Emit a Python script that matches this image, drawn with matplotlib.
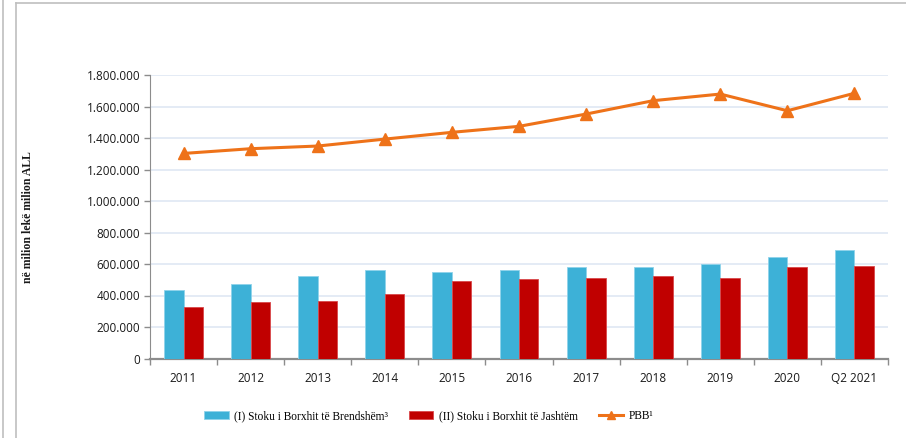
import matplotlib
matplotlib.use("Agg")
import matplotlib.pyplot as plt
import numpy as np
from matplotlib.lines import Line2D
from matplotlib.ticker import FuncFormatter, FixedLocator

# vlerat e lexuara nga grafiku (milion ALL)
vitet = ["2011", "2012", "2013", "2014", "2015", "2016", "2017", "2018", "2019", "2020", "Q2 2021"]
borxhi_brendshem = [438000, 470000, 521000, 565000, 550000, 561000, 578000, 580000, 599000, 644000, 686000]
borxhi_jashtem = [330000, 356000, 362000, 410000, 489000, 502000, 508000, 525000, 512000, 578000, 587000]
pbb = [1302000, 1332000, 1349000, 1393000, 1436000, 1474000, 1552000, 1637000, 1679000, 1573000, 1684000]
y_ticks = [0, 200000, 400000, 600000, 800000, 1000000, 1200000, 1400000, 1600000, 1800000]

colors = {
    'blue': '#3DB1D7',
    'red': '#C00000',
    'orange': '#EE7219',
    'grid': '#DCE6F2',
    'spine': '#8C8C8C',
    'text': '#1A1A1A',
}

fig = plt.figure(figsize=(9.06, 4.38), dpi=100)
ax = fig.add_axes([150 / 906, 1 - 358.5 / 438, 738 / 906, 283.5 / 438])

x = np.arange(len(vitet))
w = 0.29
b1 = ax.bar(x - w / 2, borxhi_brendshem, width=w, color=colors['blue'],
            edgecolor='#8FD3EA', linewidth=0.6, zorder=3,
            label='(I) Stoku i Borxhit të Brendshëm³')
b2 = ax.bar(x + w / 2, borxhi_jashtem, width=w, color=colors['red'],
            edgecolor='#D9474A', linewidth=0.6, zorder=3,
            label='(II) Stoku i Borxhit të Jashtëm')
ln, = ax.plot(x, pbb, color=colors['orange'], linewidth=2.2, marker='^',
              markersize=8, zorder=4, label='PBB¹')

ax.set_xlim(-0.5, len(vitet) - 0.5)
ax.set_ylim(0, 1800000)
ax.yaxis.set_major_locator(FixedLocator(y_ticks))
ax.yaxis.set_major_formatter(FuncFormatter(lambda v, p: f"{int(v):,}".replace(",", ".")))
ax.set_xticks(x)
ax.set_xticklabels(vitet)
ax.set_xticks(np.arange(-0.5, len(vitet), 1.0), minor=True)
ax.tick_params(axis='x', which='major', length=0, pad=10, labelsize=8.5,
               labelcolor=colors['text'])
ax.tick_params(axis='x', which='minor', length=4, width=1, color=colors['spine'])
ax.tick_params(axis='y', length=4, width=1, color=colors['spine'], pad=3,
               labelsize=8.5, labelcolor=colors['text'])
for lab in ax.get_xticklabels() + ax.get_yticklabels():
    lab.set_family('Open Sans')

ax.grid(axis='y', color=colors['grid'], linewidth=1.1, zorder=0)
ax.set_axisbelow(True)
for s in ['top', 'right']:
    ax.spines[s].set_visible(False)
ax.spines['left'].set_color(colors['spine'])
ax.spines['bottom'].set_color(colors['spine'])
ax.spines['bottom'].set_linewidth(1.6)

fig.text(28 / 906, 1 - 217 / 438, 'në milion lekë milion ALL', rotation=90,
         ha='center', va='center', fontsize=8.5, fontweight='bold',
         family='Liberation Serif', stretch='condensed', color=colors['text'])

leg = fig.legend(handles=[b1, b2, ln], loc='center',
                 bbox_to_anchor=(429 / 906, 1 - 416 / 438), ncol=3, frameon=False,
                 prop={'family': 'Liberation Serif', 'size': 8.3},
                 handlelength=2.1, handleheight=0.7, columnspacing=1.8,
                 handletextpad=0.5, markerscale=0.7)

# kornizat
fig.add_artist(Line2D([3 / 906, 3 / 906], [0, 1], color='#BFBFBF', linewidth=1.2))
fig.add_artist(Line2D([16 / 906, 16 / 906], [0, 1 - 3 / 438], color='#BFBFBF', linewidth=1.2))
fig.add_artist(Line2D([16 / 906, 1], [1 - 3 / 438, 1 - 3 / 438], color='#BFBFBF', linewidth=1.2))

fig.savefig('out.png', dpi=100, facecolor='white')
